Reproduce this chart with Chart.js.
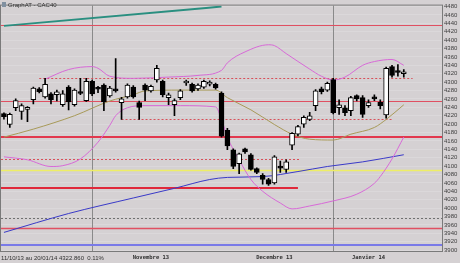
<!DOCTYPE html>
<html>
<head>
<meta charset="utf-8">
<script src="https://cdn.jsdelivr.net/npm/chart.js@4.4.1/dist/chart.umd.min.js"></script>
<style>
  html, body { margin: 0; padding: 0; background: #d5d1d3; }
  canvas { display: block; }
</style>
</head>
<body>
<canvas id="myChart" width="460" height="263"></canvas>
<script>
// Trading days from 11/10/13 to 20/01/14, plus empty slots up to the right axis
const days = [
  '11/10','14/10','15/10','16/10','17/10','18/10','21/10','22/10','23/10','24/10','25/10','28/10','29/10','30/10','31/10',
  '01/11','04/11','05/11','06/11','07/11','08/11','11/11','12/11','13/11','14/11','15/11','18/11','19/11','20/11','21/11','22/11','25/11','26/11','27/11','28/11','29/11',
  '02/12','03/12','04/12','05/12','06/12','09/12','10/12','11/12','12/12','13/12','16/12','17/12','18/12','19/12','20/12','23/12','24/12','27/12','30/12','31/12',
  '02/01','03/01','06/01','07/01','08/01','09/01','10/01','13/01','14/01','15/01','16/01','17/01','20/01',
  '', '', '', '', '', ''
];

// CAC40 daily candles
const open  = [4225,4199,4239,4230,4235,4258,4284,4265,4272,4270,4246,4288,4246,4276,4256,
               4302,4286,4293,4267,4284,4251,4265,4288,4251,4293,4279,4305,4302,4263,4246,4263,4298,4295,4284,4288,4295,
               4295,4274,4185,4139,4106,4141,4127,4094,4078,4068,4060,4100,4092,4150,4176,4200,4211,4244,4284,4281,
               4306,4239,4239,4232,4268,4263,4244,4262,4252,4222,4337,4325,4320];
const high  = [4227,4226,4260,4248,4242,4288,4287,4309,4275,4281,4280,4292,4284,4309,4309,
               4305,4290,4296,4290,4356,4264,4296,4292,4255,4296,4293,4340,4305,4274,4260,4282,4305,4298,4296,4305,4303,
               4298,4277,4190,4141,4131,4143,4130,4096,4082,4071,4125,4112,4115,4180,4197,4220,4228,4282,4288,4300,
               4309,4258,4244,4266,4270,4268,4258,4270,4258,4336,4340,4342,4330];
const low   = [4212,4192,4232,4211,4206,4248,4274,4262,4248,4255,4242,4234,4243,4270,4254,
               4268,4275,4232,4264,4276,4211,4262,4262,4211,4256,4276,4300,4265,4246,4220,4258,4292,4276,4280,4285,4291,
               4283,4169,4139,4094,4082,4130,4090,4082,4057,4054,4057,4085,4085,4139,4172,4192,4208,4232,4272,4278,
               4224,4223,4220,4220,4255,4216,4240,4256,4236,4214,4312,4314,4312];
const close = [4218,4223,4256,4244,4239,4286,4277,4295,4258,4277,4272,4253,4281,4273,4302,
               4272,4283,4253,4286,4279,4260,4293,4265,4240,4281,4290,4333,4270,4270,4256,4279,4302,4279,4293,4302,4300,
               4286,4171,4148,4099,4129,4134,4092,4085,4068,4057,4122,4095,4110,4178,4194,4216,4220,4279,4277,4297,
               4227,4246,4227,4263,4260,4223,4251,4260,4244,4333,4316,4323,4322.86];

// Indicator curves as [day index, value] pairs
const upperBand = [[7,4307],[11,4330],[15,4337],[16,4333],[18,4314],[22,4309],[28,4312],[33,4316],[37,4328],[38,4346],
                   [41,4372],[45,4389],[46,4387],[48,4368],[52,4331],[54,4314],[56,4305],[58,4312],[61,4340],[63,4349],[66,4354],[68,4340]];
const lowerBand = [[0,4122],[4,4115],[8,4099],[10,4101],[13,4117],[16,4157],[18,4197],[19,4220],[21,4239],[24,4244],[30,4244],
                   [36,4241],[37,4211],[38,4169],[40,4115],[42,4068],[44,4040],[47,4012],[49,3998],[52,4005],[56,4017],
                   [60,4033],[63,4059],[64,4075],[66,4117],[68,4169]];
const shortMa   = [[0,4169],[5,4188],[12,4220],[18,4255],[22,4270],[24,4279],[30,4281],[36,4281],[38,4263],[42,4234],
                   [46,4199],[49,4176],[52,4164],[56,4162],[59,4176],[63,4192],[65,4211],[68,4246]];
const longMa    = [[0,3942],[11,3987],[22,4024],[29,4047],[35,4068],[38,4073],[44,4075],[50,4087],[55,4099],[61,4110],[68,4127]];
const trendLine = [[0,4434],[37,4480]];

// Support / resistance levels and the day range they cover (null = plot edge)
const levels    = [4436, 4309, 4256, 4211, 4170, 4117, 4090, 4048, 3977, 3953, 3912];
const levelFrom = [null, 6,    null, 20,   null, null, null, null, null, null, null];
const levelTo   = [null, 69.5, null, 66,   null, 50.4, null, 50,   null, null, null];

const yTicks = [3900,3920,3940,3960,3980,4000,4020,4040,4060,4080,4100,4120,4140,4160,4180,
                4200,4220,4240,4260,4280,4300,4320,4340,4360,4380,4400,4420,4440,4460,4480];
const monthStarts = [15, 56];
const monthAt = [25, 46, 62];
const monthNames = ['Novembre 13', 'Decembre 13', 'Janvier 14'];
const caption = '11/10/13 au 20/01/14 4322.860  0.11%';
const title = 'GraphAT - CAC40';

const n = days.length;
const sparse = pts => {
  const a = new Array(n).fill(null);
  pts.forEach(([i, v]) => { a[i] = v; });
  return a;
};

const levelStyle = [
  { color: '#e05062', width: 1 },
  { color: '#d8505a', width: 1, dash: [2, 2] },
  { color: '#e05062', width: 1 },
  { color: '#d8505a', width: 1, dash: [2, 2] },
  { color: '#e2384e', width: 2 },
  { color: '#d8505a', width: 1, dash: [2, 2] },
  { color: '#eeee66', width: 1.5 },
  { color: '#e0283a', width: 2 },
  { color: '#707070', width: 1, dash: [2, 2] },
  { color: '#e05062', width: 1.5 },
  { color: '#7a7ae8', width: 2 }
];

const decorPlugin = {
  id: 'decor',
  beforeDraw(chart) {
    const { ctx, width, height } = chart;
    ctx.save();
    ctx.fillStyle = '#d5d1d3';
    ctx.fillRect(0, 0, width, height);
    ctx.restore();
  },
  beforeDatasetsDraw(chart) {
    const { ctx, chartArea: a, scales: { x, y } } = chart;
    ctx.save();
    // month separators
    ctx.strokeStyle = '#8a8a8a';
    ctx.lineWidth = 1;
    monthStarts.forEach(i => {
      const px = Math.round(x.getPixelForValue(i)) + 0.5;
      ctx.beginPath();
      ctx.moveTo(px, a.top);
      ctx.lineTo(px, a.bottom);
      ctx.stroke();
    });
    levels.forEach((v, k) => {
      const s = levelStyle[k];
      const py = Math.round(y.getPixelForValue(v)) + (s.width % 2 ? 0.5 : 0);
      const x0 = levelFrom[k] === null ? a.left : x.getPixelForValue(levelFrom[k]);
      const x1 = levelTo[k] === null ? a.right : x.getPixelForValue(levelTo[k]);
      ctx.strokeStyle = s.color;
      ctx.lineWidth = s.width;
      ctx.setLineDash(s.dash || []);
      ctx.beginPath();
      ctx.moveTo(x0, py);
      ctx.lineTo(x1, py);
      ctx.stroke();
    });
    ctx.restore();
  },
  afterDraw(chart) {
    const { ctx, chartArea: a } = chart;
    ctx.save();
    ctx.strokeStyle = '#7a7a7a';
    ctx.lineWidth = 1;
    ctx.strokeRect(a.left - 0.5, a.top - 0.5, a.right - a.left + 1, a.bottom - a.top + 1);
    ctx.fillStyle = '#303030';
    ctx.font = '6px "Liberation Sans"';
    ctx.textBaseline = 'middle';
    ctx.fillText(caption, 1, 258);
    ctx.fillText(title, 8, 5);
    ctx.fillStyle = '#8090a0';
    ctx.fillRect(2, 2, 4, 5);
    ctx.restore();
  }
};

const ctx = document.getElementById('myChart').getContext('2d');

const lineSet = (data, color, width) => ({
  type: 'line',
  data: sparse(data),
  borderColor: color,
  borderWidth: width,
  pointRadius: 0,
  spanGaps: true,
  tension: 0.4,
  cubicInterpolationMode: 'monotone',
  order: 3
});

const chart = new Chart(ctx, {
  data: {
    labels: days,
    datasets: [
      {
        type: 'bar',
        data: open.map((o, i) => [low[i], high[i]]),
        backgroundColor: '#000000',
        barThickness: 1,
        grouped: false,
        order: 2
      },
      {
        type: 'bar',
        data: open.map((o, i) => [o, close[i]]),
        backgroundColor: open.map((o, i) => close[i] >= o ? '#ffffff' : '#000000'),
        borderColor: '#000000',
        borderWidth: 1,
        borderSkipped: false,
        barThickness: 5,
        minBarLength: 2,
        grouped: false,
        order: 1
      },
      lineSet(upperBand, '#d86ad8', 1),
      lineSet(lowerBand, '#d86ad8', 1),
      lineSet(shortMa, '#a89a58', 1),
      lineSet(longMa, '#3a3ac8', 1),
      lineSet(trendLine, '#2a8f80', 2)
    ]
  },
  options: {
    responsive: false,
    animation: false,
    layout: { padding: { left: 1, top: 1, right: 0, bottom: 0 } },
    plugins: { legend: { display: false }, tooltip: { enabled: false } },
    scales: {
      x: {
        grid: { display: false, drawTicks: false },
        border: { display: false },
        ticks: {
          autoSkip: false,
          maxRotation: 0,
          padding: 3,
          color: '#303030',
          font: { family: 'DejaVu Sans Mono', size: 5.5, weight: 'bold' },
          callback: (v, i) => monthAt.includes(i) ? monthNames[monthAt.indexOf(i)] : ''
        },
        afterFit: s => { s.height = 12; }
      },
      y: {
        position: 'right',
        min: 3897.7,
        max: 4482.3,
        afterBuildTicks: s => { s.ticks = yTicks.map(v => ({ value: v })); },
        grid: { color: 'rgba(255,255,255,0.16)', drawTicks: false },
        border: { display: true, color: '#606060' },
        ticks: {
          autoSkip: false,
          padding: 2,
          color: '#404040',
          font: { family: 'Liberation Sans', size: 6 },
          callback: v => String(v)
        },
        afterFit: s => { s.width = 18; }
      }
    }
  },
  plugins: [decorPlugin]
});
</script>
</body>
</html>
